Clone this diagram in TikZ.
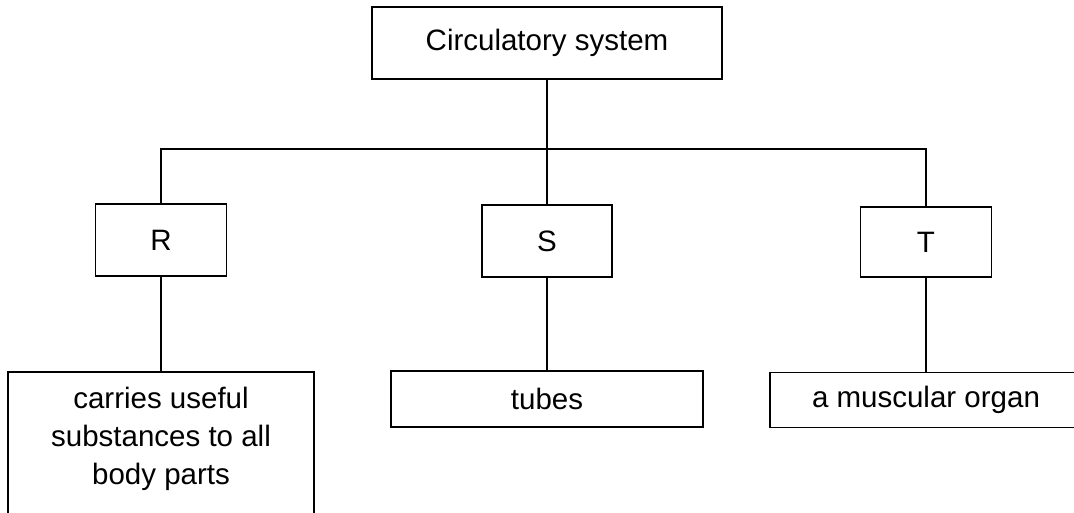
\documentclass[tikz,border=0pt]{standalone}
\usepackage{fontspec}
\setmainfont{Liberation Sans}

\begin{document}
\begin{tikzpicture}[x=1pt, y=-1pt, line width=1.3pt,
		box/.style={draw, inner sep=0pt, align=center, font=\fontsize{29.5}{34}\selectfont}]
	
	% --- frame of the picture ---
	\clip (0,0) rectangle (1074,513);
	\fill[white] (0,0) rectangle (1074,513);
	
	% --- Boxes ---
	\node[box, minimum width=350pt, minimum height=72pt] (circ) at (547,43) {Circulatory system};
	
	\node[box, minimum width=131pt, minimum height=72pt] (R) at (161,240) {R};
	\node[box, minimum width=130pt, minimum height=72pt] (S) at (547,241) {S};
	\node[box, minimum width=131pt, minimum height=70pt] (T) at (926,242) {T};
	
	\node[box, minimum width=306pt, minimum height=160pt] (carries) at (161,452) {};
	\node[font=\fontsize{29.5}{38}\selectfont, align=center] (carriestext) at (161,439)
		{carries useful\\ substances to all\\ body parts};
	\node[box, minimum width=312pt, minimum height=56pt] (tubes) at (547,399) {tubes};
	\node[box, minimum width=312pt, minimum height=55pt] (organ) at (926,400) {a muscular organ};
	
	% --- Connectors ---
	\coordinate (bus) at (547,149);
	\draw (circ) -- (bus);
	\draw (R.north) |- (bus) -| (T.north);
	\draw (S) -- (bus);
	
	\draw (R) -- (carries);
	\draw (S) -- (tubes);
	\draw (T) -- (organ);
	
\end{tikzpicture}
\end{document}
